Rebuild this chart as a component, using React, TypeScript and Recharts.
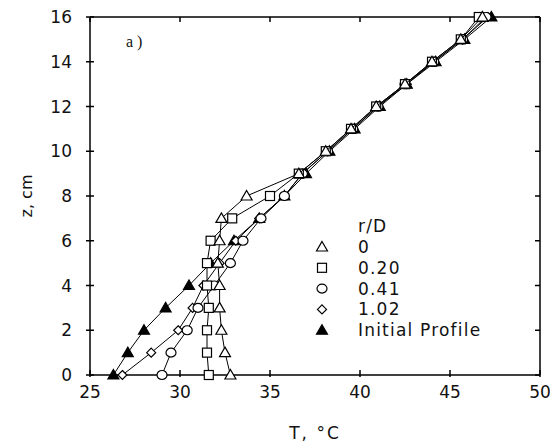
import React from 'react';
import { ScatterChart, Scatter, XAxis, YAxis, ReferenceLine } from 'recharts';

// depth levels, cm
const zLevels = [0, 1, 2, 3, 4, 5, 6, 7, 8, 9, 10, 11, 12, 13, 14, 15, 16];

// temperature profiles, deg C
const tempR0 = [32.8, 32.5, 32.3, 32.2, 32.2, 32.1, 32.2, 32.3, 33.7, 36.6, 38.1, 39.5, 40.9, 42.5, 44.0, 45.6, 46.8];
const tempR020 = [31.6, 31.5, 31.5, 31.6, 31.5, 31.5, 31.7, 32.9, 35.0, 36.6, 38.1, 39.5, 40.9, 42.5, 44.0, 45.6, 46.6];
const tempR041 = [29.0, 29.5, 30.4, 31.0, 31.9, 32.8, 33.5, 34.5, 35.8, 36.8, 38.2, 39.6, 41.0, 42.5, 44.1, 45.7, 47.0];
const tempR102 = [26.8, 28.4, 29.9, 30.7, 31.3, 32.2, 33.1, 34.4, 35.8, 36.8, 38.2, 39.6, 41.0, 42.6, 44.1, 45.7, 47.1];
const tempInitial = [26.3, 27.1, 28.0, 29.2, 30.5, 31.7, 33.0, 34.4, 35.8, 37.0, 38.3, 39.7, 41.1, 42.6, 44.2, 45.8, 47.3];

const xTicks = [25, 30, 35, 40, 45, 50];
const yTicks = [0, 2, 4, 6, 8, 10, 12, 14, 16];

const FONT = '"DejaVu Sans", Arial, sans-serif';
const INK = '#111';

type Marker = 'triangle' | 'square' | 'circle' | 'diamond' | 'filled';

const SERIES: { name: string; values: number[]; marker: Marker }[] = [
  { name: 'Initial Profile', values: tempInitial, marker: 'filled' },
  { name: '1.02', values: tempR102, marker: 'diamond' },
  { name: '0.41', values: tempR041, marker: 'circle' },
  { name: '0.20', values: tempR020, marker: 'square' },
  { name: '0', values: tempR0, marker: 'triangle' },
];

const LEGEND_ORDER = ['0', '0.20', '0.41', '1.02', 'Initial Profile'];

function MarkerShape({ cx = 0, cy = 0, marker }: { cx?: number; cy?: number; marker: Marker }) {
  const common = { stroke: '#000', strokeWidth: 1.2, fill: '#fff' };
  switch (marker) {
    case 'triangle':
      return <polygon points={`${cx},${cy - 5.5} ${cx + 5.5},${cy + 4} ${cx - 5.5},${cy + 4}`} {...common} />;
    case 'filled':
      return <polygon points={`${cx},${cy - 5.5} ${cx + 5.5},${cy + 4} ${cx - 5.5},${cy + 4}`} {...common} fill="#000" />;
    case 'square':
      return <rect x={cx - 4.5} y={cy - 4.5} width={9} height={9} {...common} />;
    case 'circle':
      return <ellipse cx={cx} cy={cy} rx={5} ry={4.5} {...common} />;
    case 'diamond':
      return <polygon points={`${cx},${cy - 4.5} ${cx + 4.5},${cy} ${cx},${cy + 4.5} ${cx - 4.5},${cy}`} {...common} />;
    default:
      return null;
  }
}

const BottomTick = ({ x, y, payload }: any) => (
  <g>
    <line x1={x} x2={x} y1={y - 5} y2={y + 2} stroke="#000" strokeWidth={1.5} />
    <text x={x} y={y + 17} textAnchor="middle" dominantBaseline="central" fontFamily={FONT} fontSize={17} fill={INK}>
      {payload.value}
    </text>
  </g>
);

const LeftTick = ({ x, y, payload }: any) => (
  <g>
    <line x1={x - 4} x2={x + 4} y1={y} y2={y} stroke="#000" strokeWidth={1.5} />
    <text x={x - 18} y={y} textAnchor="end" dominantBaseline="central" fontFamily={FONT} fontSize={17} fill={INK}>
      {payload.value}
    </text>
  </g>
);

const TopTick = ({ x, y }: any) => <line x1={x} x2={x} y1={y} y2={y + 5} stroke="#000" strokeWidth={1.5} />;
const RightTick = ({ x, y }: any) => <line x1={x - 5} x2={x} y1={y} y2={y} stroke="#000" strokeWidth={1.5} />;

function LegendBox() {
  const rows = LEGEND_ORDER.map((n) => SERIES.find((s) => s.name === n)!);
  return (
    <svg width={210} height={130}>
      <text x={58} y={12} dominantBaseline="central" fontFamily={FONT} fontSize={17} letterSpacing={1.2} fill={INK}>
        r/D
      </text>
      {rows.map((s, i) => (
        <g key={s.name}>
          <MarkerShape cx={22} cy={33 + i * 20.8} marker={s.marker} />
          <text x={58} y={33 + i * 20.8} dominantBaseline="central" fontFamily={FONT} fontSize={17} letterSpacing={1.2} fill={INK}>
            {s.name}
          </text>
        </g>
      ))}
    </svg>
  );
}

export default function App() {
  const axisLine = { stroke: '#000', strokeWidth: 1.5 };
  return (
    <div style={{ position: 'absolute', left: 0, top: 0, width: 550, height: 443, background: '#fff' }}>
      <ScatterChart width={550} height={443} margin={{ top: 16, right: 9, bottom: 28, left: 0 }}>
        <XAxis
          type="number"
          dataKey="T"
          domain={[25, 50]}
          ticks={xTicks}
          height={40}
          tickSize={0}
          tickMargin={0}
          tickLine={false}
          axisLine={axisLine}
          tick={BottomTick}
          label={{
            content: ({ viewBox }: any) => (
              <text x={viewBox.x + viewBox.width / 2} y={433} textAnchor="middle" dominantBaseline="central" fontFamily={FONT} fontSize={17} letterSpacing={2} fill={INK}>
                T, °C
              </text>
            ),
          }}
        />
        <XAxis xAxisId="top" orientation="top" type="number" dataKey="T" domain={[25, 50]} ticks={xTicks} height={1} tickSize={0} tickMargin={0} tickLine={false} axisLine={false} tick={TopTick} />
        <YAxis
          type="number"
          dataKey="z"
          domain={[0, 16]}
          ticks={yTicks}
          width={90}
          tickSize={0}
          tickMargin={0}
          tickLine={false}
          axisLine={axisLine}
          tick={LeftTick}
          label={{
            content: ({ viewBox }: any) => {
              const cy = viewBox.y + viewBox.height / 2;
              return (
                <text x={26} y={cy} transform={`rotate(-90 26 ${cy})`} textAnchor="middle" dominantBaseline="central" fontFamily={FONT} fontSize={16} fill={INK}>
                  z, cm
                </text>
              );
            },
          }}
        />
        <YAxis yAxisId="right" orientation="right" type="number" dataKey="z" domain={[0, 16]} ticks={yTicks} width={1} tickSize={0} tickMargin={0} tickLine={false} axisLine={false} tick={RightTick} />
        {/* plot frame: top and right edges */}
        <ReferenceLine y={16} stroke="#000" strokeWidth={1.5} />
        <ReferenceLine x={50} stroke="#000" strokeWidth={1.5} />
        {SERIES.map((s) => {
          // the r/D = 0 profile is bound to the mirrored top/right axes (same domains) so their ticks are drawn
          const mirrored = s.name === '0';
          return (
            <Scatter
              key={s.name}
              name={s.name}
              xAxisId={mirrored ? 'top' : 0}
              yAxisId={mirrored ? 'right' : 0}
              data={zLevels.map((z, i) => ({ z, T: s.values[i] }))}
              line={{ stroke: '#000', strokeWidth: 1 }}
              lineType="joint"
              shape={(p: any) => <MarkerShape cx={p.cx} cy={p.cy} marker={s.marker} />}
              isAnimationActive={false}
            />
          );
        })}
      </ScatterChart>
      <div style={{ position: 'absolute', left: 300, top: 214 }}>
        <LegendBox />
      </div>
      <div style={{ position: 'absolute', left: 126, top: 33, fontFamily: '"Liberation Serif", serif', fontSize: 16, color: INK }}>a )</div>
    </div>
  );
}
